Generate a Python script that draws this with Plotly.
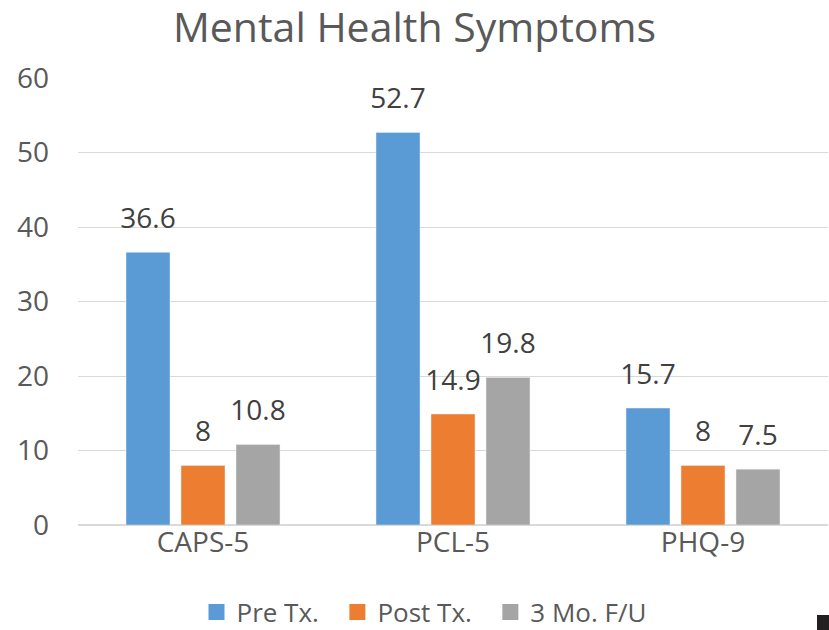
import plotly.graph_objects as go

categories = ["CAPS-5", "PCL-5", "PHQ-9"]
pre_tx = [36.6, 52.7, 15.7]
post_tx = [8, 14.9, 8]
follow_up = [10.8, 19.8, 7.5]
series_names = ["Pre Tx.", "Post Tx.", "3 Mo. F/U"]
colors = ["#5B9BD5", "#ED7D31", "#A5A5A5"]

FONT = "Open Sans"
NBSP = "\u00a0"
fig = go.Figure()
for i, (name, vals, col) in enumerate(zip(series_names, [pre_tx, post_tx, follow_up], colors)):
    fig.add_trace(go.Bar(
        x=categories, y=vals, name=name, marker_color=col,
        offsetgroup=str(i), showlegend=False, hoverinfo="skip",
    ))
    # data labels, aligned with bars via scatter grouping
    fig.add_trace(go.Scatter(
        x=categories, y=vals, mode="markers+text", offsetgroup=str(i),
        marker=dict(size=26, opacity=0), text=[f"{v:g}" for v in vals],
        textposition="top center",
        textfont=dict(family=FONT, size=28, color="#404040"),
        showlegend=False, cliponaxis=False, hoverinfo="skip",
    ))
    # legend entry
    label = name + (NBSP * 2 if i < len(series_names) - 1 else "")
    fig.add_trace(go.Scatter(
        x=[None], y=[None], mode="markers", name=label,
        marker=dict(symbol="square", size=18, color=col),
    ))

fig.update_layout(
    width=829, height=630,
    margin=dict(l=78, r=1, t=78, b=105, autoexpand=False),
    paper_bgcolor="white", plot_bgcolor="white",
    barmode="group", bargap=0.34, bargroupgap=0.2,
    scattermode="group",
    title=dict(text="Mental Health Symptoms", x=0.5, xanchor="center",
               y=1 - 28/630, yanchor="middle",
               font=dict(family=FONT, size=41, color="#595959")),
    font=dict(family=FONT, color="#595959"),
    yaxis=dict(range=[0, 60], dtick=10, showgrid=True, gridcolor="#D9D9D9",
               gridwidth=1, zeroline=True, zerolinecolor="#D9D9D9",
               tickfont=dict(family=FONT, size=28, color="#595959"),
               ticks="", ticklabelstandoff=28),
    xaxis=dict(showgrid=False, tickfont=dict(family=FONT, size=28, color="#595959"),
               ticks="", showline=False, ticklabelstandoff=-2),
    legend=dict(orientation="h", x=(424-78)/750, xanchor="center",
                y=-(612-525)/447, yanchor="middle",
                font=dict(family=FONT, size=26, color="#595959"),
                itemwidth=30, traceorder="normal"),
    showlegend=True,
)
fig.add_shape(type="rect", xref="paper", yref="paper",
              x0=(817-78)/750, x1=(829-78)/750, y0=-(615-525)/447, y1=-(630-525)/447,
              fillcolor="#231F20", line=dict(width=0))
fig.write_html("out.html", config={"displayModeBar": False},
               post_script="document.body.style.margin='0';")
